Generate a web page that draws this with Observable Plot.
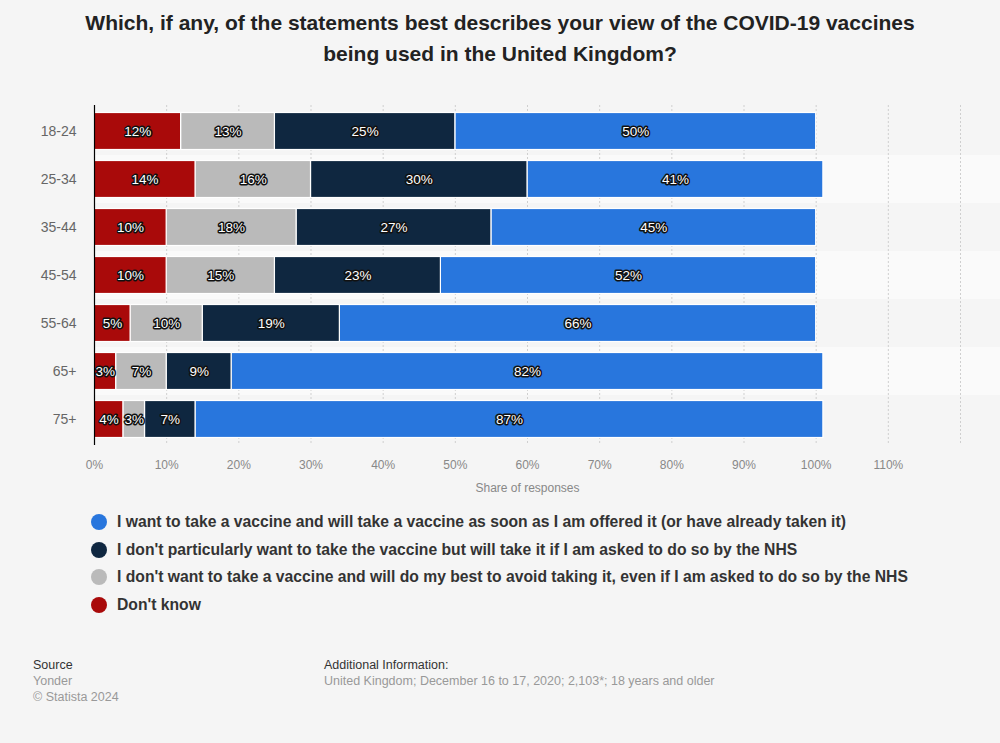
<!DOCTYPE html>
<html>
<head>
<meta charset="utf-8">
<script src="https://cdn.jsdelivr.net/npm/d3@7"></script>
<script src="https://cdn.jsdelivr.net/npm/@observablehq/plot@0.6"></script>
<style>
  html, body { margin: 0; padding: 0; background: #f5f5f5; }
  body { width: 1000px; height: 743px; position: relative; overflow: hidden; font-family: "Liberation Sans", Arial, sans-serif; }
  #title { position: absolute; top: 7px; left: 0; width: 1000px; text-align: center; font-weight: bold; font-size: 21px; line-height: 31px; color: #222; }
  #chart { position: absolute; top: 0; left: 0; }
  #legend { position: absolute; top: 508px; left: 91px; }
  .li { display: flex; align-items: center; height: 27.7px; font-weight: bold; font-size: 15.7px; color: #333; }
  .sw { width: 16px; height: 16px; border-radius: 50%; margin-right: 10px; flex: none; }
  .foot { position: absolute; top: 657px; font-size: 12.5px; line-height: 16px; color: #999; }
  .foot .h { color: #333; }
</style>
</head>
<body>
<div id="title">Which, if any, of the statements best describes your view of the COVID-19 vaccines<br>being used in the United Kingdom?</div>
<div id="chart"></div>
<div id="legend"></div>
<div class="foot" style="left:33px"><div class="h">Source</div><div>Yonder</div><div>© Statista 2024</div></div>
<div class="foot" style="left:324px"><div class="h">Additional Information:</div><div>United Kingdom; December 16 to 17, 2020; 2,103*; 18 years and older</div></div>
<script>
const ageGroups = ["18-24", "25-34", "35-44", "45-54", "55-64", "65+", "75+"];
const seriesNames = [
  "I want to take a vaccine and will take a vaccine as soon as I am offered it (or have already taken it)",
  "I don't particularly want to take the vaccine but will take it if I am asked to do so by the NHS",
  "I don't want to take a vaccine and will do my best to avoid taking it, even if I am asked to do so by the NHS",
  "Don't know"
];
const seriesColors = ["#2876dd", "#0f2740", "#bababa", "#a90a0a"];
const wantValues        = [50, 41, 45, 52, 66, 82, 87];
const notParticularly   = [25, 30, 27, 23, 19, 9, 7];
const dontWantValues    = [13, 16, 18, 15, 10, 7, 3];
const dontKnowValues    = [12, 14, 10, 10, 5, 3, 4];
const xTicks = [0, 10, 20, 30, 40, 50, 60, 70, 80, 90, 100, 110];
const gridTicks = [10, 20, 30, 40, 50, 60, 70, 80, 90, 100, 110, 120];

const seriesValues = [wantValues, notParticularly, dontWantValues, dontKnowValues];
const data = [];
ageGroups.forEach((age, i) => {
  seriesNames.forEach((s, j) => data.push({age, series: s, value: seriesValues[j][i]}));
});
const stackOrder = [seriesNames[3], seriesNames[2], seriesNames[1], seriesNames[0]];
const stripes = ageGroups.filter((d, i) => i % 2 === 1);

const chart = Plot.plot({
  width: 1000,
  height: 500,
  marginTop: 105,
  marginBottom: 55,
  marginLeft: 94,
  marginRight: 40,
  style: {background: "transparent", fontFamily: "Liberation Sans, Arial, sans-serif"},
  x: {domain: [0, 120], label: null},
  y: {domain: ageGroups, padding: 0, label: null},
  color: {domain: seriesNames, range: seriesColors},
  marks: [
    Plot.barX(stripes, {y: d => d, x1: 0, x2: 120, fill: "#fafafa", insetRight: -40}),
    Plot.ruleX(gridTicks, {stroke: "#cfcfcf", strokeDasharray: "2,2", strokeWidth: 1}),
    Plot.barX(data, Plot.stackX({x: "value", y: "age", fill: "series", order: stackOrder, stroke: "white", strokeWidth: 1.2, insetTop: 5.5, insetBottom: 5.5})),
    Plot.text(data, Plot.stackX({x: "value", y: "age", z: "series", order: stackOrder, text: d => d.value + "%", fill: "white", stroke: "#111", strokeWidth: 3, strokeLinejoin: "round", paintOrder: "stroke", fontSize: 13.5})),
    Plot.axisY({tickSize: 0, tickPadding: 18, fontSize: 14, color: "#666", label: null}),
    Plot.axisX({ticks: xTicks, tickFormat: d => d + "%", tickSize: 0, tickPadding: 15, fontSize: 12, color: "#888", label: null}),
    Plot.ruleX([0], {stroke: "black", strokeWidth: 1.2}),
    Plot.text(["Share of responses"], {frameAnchor: "bottom", dy: 46, fontSize: 12, fill: "#888"})
  ]
});
document.getElementById("chart").appendChild(chart);

const legend = document.getElementById("legend");
seriesNames.forEach((s, j) => {
  const row = document.createElement("div");
  row.className = "li";
  row.innerHTML = `<span class="sw" style="background:${seriesColors[j]}"></span><span>${s}</span>`;
  legend.appendChild(row);
});
</script>
</body>
</html>
